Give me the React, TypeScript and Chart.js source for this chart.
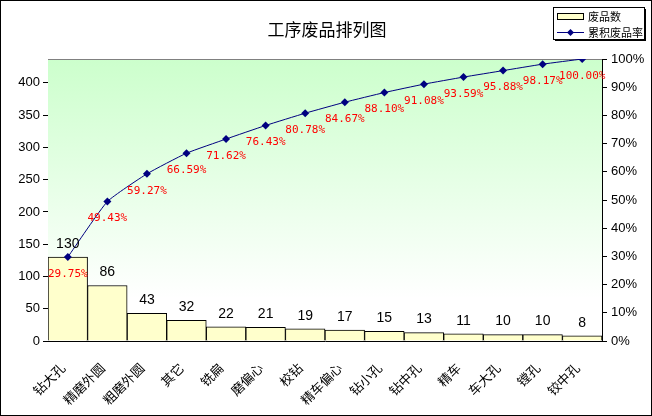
import { useEffect, useRef } from "react";
import { Chart, registerables } from "chart.js";
import type { Plugin } from "chart.js";

Chart.register(...registerables);

const categories = [
  "钻大孔", "精磨外圆", "粗磨外圆", "其它", "铣扁", "磨偏心", "校钻",
  "精车偏心", "钻小孔", "钻中孔", "精车", "车大孔", "镗孔", "铰中孔",
];
const rejects = [130, 86, 43, 32, 22, 21, 19, 17, 15, 13, 11, 10, 10, 8];
const cumulativePct = [
  29.75, 49.43, 59.27, 66.59, 71.62, 76.43, 80.78, 84.67, 88.1, 91.08,
  93.59, 95.88, 98.17, 100.0,
];
const countMax = 437;

const W = 652;
const H = 416;

// frame, title, legend and plot background (Excel-style)
const decor: Plugin = {
  id: "decor",
  beforeDatasetsDraw(chart) {
    const { ctx, chartArea: a } = chart;
    ctx.save();
    const g = ctx.createLinearGradient(0, a.top, 0, a.bottom);
    g.addColorStop(0, "#CCFFCC");
    g.addColorStop(0.85, "#FFFFFF");
    ctx.fillStyle = g;
    ctx.fillRect(a.left, a.top, a.right - a.left, a.bottom - a.top);
    ctx.strokeStyle = "#808080";
    ctx.lineWidth = 1;
    ctx.beginPath();
    ctx.moveTo(a.left, a.top + 0.5);
    ctx.lineTo(a.right, a.top + 0.5);
    ctx.stroke();
    ctx.restore();
  },
  afterDraw(chart) {
    const { ctx } = chart;
    ctx.save();
    ctx.strokeStyle = "#000";
    ctx.lineWidth = 1;
    ctx.strokeRect(0.5, 0.5, W - 1, H - 1);

    ctx.fillStyle = "#000";
    ctx.font = "17px 'Noto Sans CJK SC'";
    ctx.textAlign = "center";
    ctx.textBaseline = "middle";
    ctx.fillText("工序废品排列图", 327, 30);

    // legend
    ctx.fillStyle = "#fff";
    ctx.fillRect(553, 7, 92, 33);
    ctx.strokeRect(553.5, 7.5, 91, 32);
    ctx.fillStyle = "#000";
    ctx.fillRect(645, 9, 1, 32);
    ctx.fillRect(555, 40, 91, 1);
    ctx.fillStyle = "#FFFFCC";
    ctx.fillRect(557, 13, 27, 7);
    ctx.strokeRect(557.5, 13.5, 26, 6);
    ctx.strokeStyle = "#000080";
    ctx.beginPath();
    ctx.moveTo(557, 32.5);
    ctx.lineTo(584, 32.5);
    ctx.stroke();
    ctx.fillStyle = "#000080";
    ctx.beginPath();
    ctx.moveTo(570.5, 29);
    ctx.lineTo(574, 32.5);
    ctx.lineTo(570.5, 36);
    ctx.lineTo(567, 32.5);
    ctx.closePath();
    ctx.fill();
    ctx.fillStyle = "#000";
    ctx.font = "11px 'Noto Sans CJK SC'";
    ctx.textAlign = "left";
    ctx.fillText("废品数", 588, 17);
    ctx.fillText("累积废品率", 588, 33);
    ctx.restore();
  },
  afterDatasetsDraw(chart) {
    const { ctx } = chart;
    ctx.save();
    ctx.textAlign = "center";
    ctx.textBaseline = "middle";
    ctx.fillStyle = "#000";
    ctx.font = "14px 'Liberation Sans'";
    chart.getDatasetMeta(0).data.forEach((el, i) => {
      ctx.fillText(String(rejects[i]), el.x, el.y - 13);
    });
    ctx.fillStyle = "#FF0000";
    ctx.font = "11px 'DejaVu Sans Mono'";
    chart.getDatasetMeta(1).data.forEach((el, i) => {
      ctx.fillText(cumulativePct[i].toFixed(2) + "%", el.x, el.y + 17);
    });
    ctx.restore();
  },
};

export default function App() {
  const canvasRef = useRef<HTMLCanvasElement | null>(null);
  const chartRef = useRef<Chart | null>(null);

  useEffect(() => {
    document.body.style.margin = "0";
    if (!canvasRef.current) return;
    chartRef.current?.destroy();

    const tickFont = { family: "'Liberation Sans'", size: 13 };

    chartRef.current = new Chart(canvasRef.current, {
      type: "bar",
      data: {
        labels: categories,
        datasets: [
          {
            type: "bar",
            label: "废品数",
            data: rejects,
            yAxisID: "y",
            backgroundColor: "#FFFFCC",
            borderColor: "#000",
            borderWidth: 1,
            categoryPercentage: 1,
            barPercentage: 1,
            order: 2,
          },
          {
            type: "line",
            label: "累积废品率",
            data: cumulativePct,
            yAxisID: "y1",
            borderColor: "#000080",
            borderWidth: 1,
            backgroundColor: "#000080",
            pointStyle: "rectRot",
            pointRadius: 4,
            pointBorderWidth: 0,
            tension: 0.15,
            order: 1,
          },
        ],
      },
      options: {
        responsive: false,
        animation: false,
        devicePixelRatio: 1,
        layout: { padding: { top: 59, left: 0, right: 0, bottom: 0 } },
        plugins: {
          legend: { display: false },
          title: { display: false },
          tooltip: { enabled: false },
        },
        scales: {
          x: {
            offset: true,
            grid: { display: false, offset: true },
            border: { display: true, color: "#000", width: 1 },
            ticks: {
              color: "#000",
              font: { family: "'Noto Sans CJK SC'", size: 13 },
              minRotation: 45,
              maxRotation: 45,
              autoSkip: false,
              padding: 11,
              labelOffset: -5,
            },
            afterFit: (s) => {
              s.height = 75;
            },
          },
          y: {
            position: "left",
            min: 0,
            max: countMax,
            grid: { drawOnChartArea: false, color: "#000", tickLength: 5 },
            border: { display: true, color: "#000", width: 1 },
            ticks: {
              stepSize: 50,
              includeBounds: false,
              color: "#000",
              font: tickFont,
              padding: 3,
            },
            afterFit: (s) => {
              s.width = 48;
            },
          },
          y1: {
            position: "right",
            min: 0,
            max: 100,
            grid: { drawOnChartArea: false, color: "#000", tickLength: 5 },
            border: { display: true, color: "#000", width: 1 },
            ticks: {
              stepSize: 10,
              color: "#000",
              font: tickFont,
              padding: 4,
              callback: (v) => v + "%",
            },
            afterFit: (s) => {
              s.width = 50;
            },
          },
        },
      },
      plugins: [decor],
    });

    return () => {
      chartRef.current?.destroy();
      chartRef.current = null;
    };
  }, []);

  return (
    <div style={{ position: "fixed", left: 0, top: 0, width: W, height: H, background: "#fff" }}>
      <canvas ref={canvasRef} width={W} height={H} />
    </div>
  );
}
